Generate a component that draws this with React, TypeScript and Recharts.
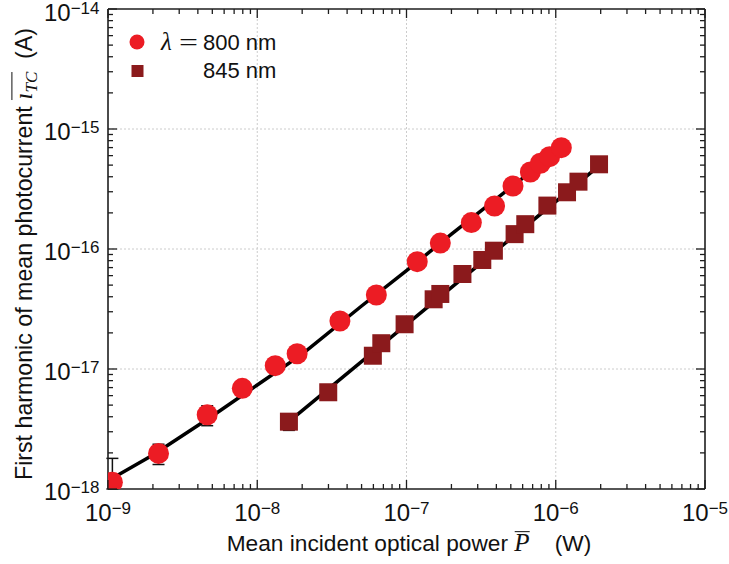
import { ComposedChart, XAxis, YAxis, Line, Scatter, ErrorBar, ReferenceLine } from "recharts"

const RED = "#ec1c24"
const DARK_RED = "#8b1a1c"
const FRAME = "#1e1e1e"
const GRID = "#cccccc"
const SANS = "'Liberation Sans', Arial, sans-serif"
const SERIF = "'Liberation Serif', 'Times New Roman', serif"

// λ = 800 nm, measured points (W, A)
const power800 = [
  1.07e-9, 2.18e-9, 4.62e-9, 7.94e-9, 1.32e-8, 1.85e-8, 3.58e-8, 6.28e-8, 1.18e-7,
  1.685e-7, 2.72e-7, 3.89e-7, 5.17e-7, 6.76e-7, 7.89e-7, 9.1e-7, 1.09e-6,
]
const current800 = [
  1.14e-18, 1.98e-18, 4.16e-18, 6.9e-18, 1.066e-17, 1.34e-17, 2.51e-17, 4.14e-17, 7.84e-17,
  1.12e-16, 1.66e-16, 2.28e-16, 3.35e-16, 4.38e-16, 5.18e-16, 5.88e-16, 6.99e-16,
]
const errLow800 = [0.14e-18, 0.38e-18, 0.79e-18, 0, 0, 0, 0, 0, 0, 0, 0, 0, 0, 0, 0, 0, 0]
const errHigh800 = [0.66e-18, 0.38e-18, 0.78e-18, 0, 0, 0, 0, 0, 0, 0, 0, 0, 0, 0, 0, 0, 0]

// 845 nm
const power845 = [
  1.63e-8, 2.99e-8, 5.95e-8, 6.78e-8, 9.71e-8, 1.52e-7, 1.685e-7, 2.37e-7, 3.22e-7,
  3.85e-7, 5.3e-7, 6.25e-7, 8.79e-7, 1.19e-6, 1.42e-6, 1.95e-6,
]
const current845 = [
  3.64e-18, 6.4e-18, 1.29e-17, 1.64e-17, 2.36e-17, 3.81e-17, 4.22e-17, 6.19e-17, 8.1e-17,
  9.68e-17, 1.33e-16, 1.61e-16, 2.3e-16, 2.97e-16, 3.64e-16, 5.08e-16,
]
const errLow845 = [0.56e-18, 0, 0, 0, 0, 0, 0, 0, 0, 0, 0, 0, 0, 0, 0, 0]
const errHigh845 = [0.56e-18, 0, 0, 0, 0, 0, 0, 0, 0, 0, 0, 0, 0, 0, 0, 0]

// fitted curves
const fitPower800 = [1e-9, 2e-9, 5e-9, 1e-8, 2e-8, 5e-8, 1e-7, 2e-7, 5e-7, 1.2e-6]
const fitCurrent800 = [1.17e-18, 1.92e-18, 4.06e-18, 7.36e-18, 1.33e-17, 3.35e-17, 6.6e-17, 1.33e-16, 3.27e-16, 7.6e-16]
const fitPower845 = [1.62e-8, 1.7e-7, 1.95e-6]
const fitCurrent845 = [3.62e-18, 4.05e-17, 4.92e-16]

// axes
const xDecades = [1e-9, 1e-8, 1e-7, 1e-6, 1e-5]
const yDecades = [1e-18, 1e-17, 1e-16, 1e-15, 1e-14]
const minorSteps = [2, 3, 4, 5, 6, 7, 8, 9]

const withMinor = (decades: number[]) =>
  decades.flatMap((d, i) => (i === decades.length - 1 ? [d] : [d, ...minorSteps.map((m) => m * d)]))

const xTicks = withMinor(xDecades)
const yTicks = withMinor(yDecades)

const toRows = (xs: number[], ys: number[], lo?: number[], hi?: number[]) =>
  xs.map((x, i) => ({ x, y: ys[i], err: lo && hi ? [lo[i], hi[i]] : undefined }))

const pts800 = toRows(power800, current800, errLow800, errHigh800)
const pts845 = toRows(power845, current845, errLow845, errHigh845)
const errPts = [...pts800, ...pts845].filter((p) => p.err && (p.err[0] > 0 || p.err[1] > 0))
const fit800 = toRows(fitPower800, fitCurrent800)
const fit845 = toRows(fitPower845, fitCurrent845)

const isMajor = (v: number) => Math.abs(Math.log10(v) - Math.round(Math.log10(v))) < 1e-6
const expText = (v: number) => "\u2212" + String(-Math.round(Math.log10(v)))

const MAJOR = 9
const MINOR = 5

function BottomTick({ x, y, payload }: any) {
  const major = isMajor(payload.value)
  return (
    <g>
      <line x1={x} x2={x} y1={y} y2={y - (major ? MAJOR : MINOR)} stroke={FRAME} strokeWidth={1.3} />
      {major && (
        <text x={x} y={y + 32} textAnchor="middle" fontFamily={SANS} fontSize={24} fill="#111">
          10
          <tspan dy={-7} fontSize={17}>{expText(payload.value)}</tspan>
        </text>
      )}
    </g>
  )
}

function TopTick({ x, y, payload }: any) {
  const major = isMajor(payload.value)
  return <line x1={x} x2={x} y1={y} y2={y + (major ? MAJOR : MINOR)} stroke={FRAME} strokeWidth={1.3} />
}

function LeftTick({ x, y, payload }: any) {
  const major = isMajor(payload.value)
  return (
    <g>
      <line x1={x} x2={x + (major ? MAJOR : MINOR)} y1={y} y2={y} stroke={FRAME} strokeWidth={1.3} />
      {major && (
        <text x={x - 8.5} y={Math.max(y + 11, 21)} textAnchor="end" fontFamily={SANS} fontSize={24} fill="#111">
          10
          <tspan dy={-7} fontSize={17}>{expText(payload.value)}</tspan>
        </text>
      )}
    </g>
  )
}

function RightTick({ x, y, payload }: any) {
  const major = isMajor(payload.value)
  return <line x1={x} x2={x - (major ? MAJOR : MINOR)} y1={y} y2={y} stroke={FRAME} strokeWidth={1.3} />
}

const Dot = ({ cx, cy }: any) => <circle cx={cx} cy={cy} r={10.5} fill={RED} />
const Square = ({ cx, cy }: any) => <rect x={cx - 9} y={cy - 9} width={18} height={18} fill={DARK_RED} />
const Nothing = () => <g />

const axisCommon = {
  type: "number" as const,
  scale: "log" as const,
  allowDataOverflow: true,
  interval: 0 as const,
  tickSize: 0,
  tickMargin: 0,
  axisLine: { stroke: FRAME, strokeWidth: 1.6 },
}

export default function App() {
  return (
    <div style={{ position: "absolute", left: 0, top: 0, width: 729, height: 564, background: "#fff" }}>
      <ComposedChart width={729} height={564} margin={{ top: 8, right: 23, bottom: 74, left: 107 }}>
        <XAxis {...axisCommon} dataKey="x" domain={[1e-9, 1e-5]} ticks={xTicks} height={1} tick={<BottomTick />} />
        <XAxis
          {...axisCommon}
          xAxisId="top"
          orientation="top"
          dataKey="x"
          domain={[1e-9, 1e-5]}
          ticks={xTicks}
          height={1}
          tick={<TopTick />}
        />
        <YAxis {...axisCommon} dataKey="y" domain={[1e-18, 1e-14]} ticks={yTicks} width={1} tick={<LeftTick />} />
        <YAxis
          {...axisCommon}
          yAxisId="right"
          orientation="right"
          dataKey="y"
          domain={[1e-18, 1e-14]}
          ticks={yTicks}
          width={1}
          tick={<RightTick />}
        />
        {xDecades.slice(1, -1).map((v) => (
          <ReferenceLine key={"gx" + v} x={v} stroke={GRID} strokeDasharray="2 2" strokeWidth={1} />
        ))}
        {yDecades.slice(1, -1).map((v) => (
          <ReferenceLine key={"gy" + v} y={v} stroke={GRID} strokeDasharray="2 2" strokeWidth={1} />
        ))}
        <Scatter data={errPts} dataKey="y" shape={<Nothing />} isAnimationActive={false}>
          <ErrorBar dataKey="err" direction="y" width={6} stroke="#111" strokeWidth={1.5} isAnimationActive={false} />
        </Scatter>
        <Line data={fit800} dataKey="y" type="linear" stroke="#000" strokeWidth={3.5} dot={false} isAnimationActive={false} />
        <Line data={fit845} dataKey="y" type="linear" stroke="#000" strokeWidth={3.5} dot={false} isAnimationActive={false} />
        <Scatter data={pts800} dataKey="y" shape={<Dot />} isAnimationActive={false} />
        <Scatter data={pts845} dataKey="y" shape={<Square />} isAnimationActive={false} />
      </ComposedChart>

      <svg width={729} height={564} style={{ position: "absolute", left: 0, top: 0, pointerEvents: "none" }}>
        <circle cx={137} cy={42} r={7.5} fill={RED} />
        <text x={161} y={50} fontFamily={SERIF} fontStyle="italic" fontSize={25} fill="#111">λ</text>
        <text x={179} y={50} fontFamily={SERIF} fontSize={24} fill="#111" textLength={19} lengthAdjust="spacingAndGlyphs">=</text>
        <text x={203} y={50} fontFamily={SANS} fontSize={22} fill="#111">800 nm</text>
        <rect x={131.5} y={65} width={12} height={12} fill={DARK_RED} />
        <text x={203} y={78} fontFamily={SANS} fontSize={22} fill="#111">845 nm</text>
      </svg>

      <div
        style={{
          position: "absolute",
          left: 24,
          top: 254,
          transform: "translate(-50%, -50%) rotate(-90deg)",
          whiteSpace: "nowrap",
          fontFamily: SANS,
          fontSize: 23.2,
          lineHeight: 1,
          color: "#111",
        }}
      >
        First harmonic of mean photocurrent{" "}
        <span
          style={{
            display: "inline-block",
            borderTop: "1.5px solid #111",
            lineHeight: 0.8,
            paddingTop: 2,
            fontFamily: SERIF,
            fontStyle: "italic",
          }}
        >
          <span style={{ fontSize: 26 }}>ı</span>
          <span style={{ fontSize: 17, position: "relative", top: 5 }}>TC</span>
        </span>
        {"\u00a0\u00a0(A)"}
      </div>

      <div
        style={{
          position: "absolute",
          left: 409,
          top: 543,
          transform: "translate(-50%, -50%)",
          whiteSpace: "nowrap",
          fontFamily: SANS,
          fontSize: 22.7,
          lineHeight: 1,
          color: "#111",
        }}
      >
        Mean incident optical power{" "}
        <span
          style={{
            display: "inline-block",
            borderTop: "1.5px solid #111",
            lineHeight: 0.75,
            paddingTop: 2,
            fontFamily: SERIF,
            fontStyle: "italic",
            fontSize: 25,
          }}
        >
          P
        </span>
        {"\u00a0\u00a0\u00a0\u00a0(W)"}
      </div>
    </div>
  )
}
